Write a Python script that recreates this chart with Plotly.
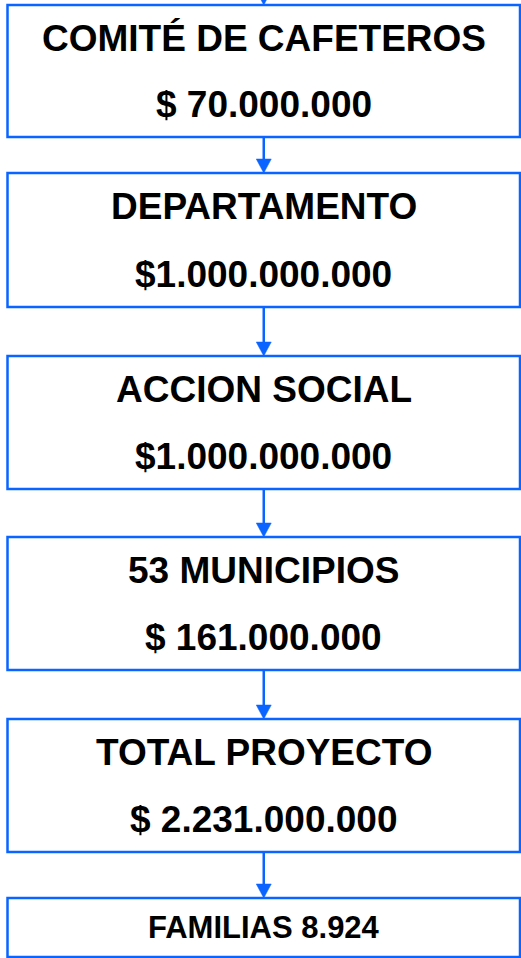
import plotly.graph_objects as go

# ---- data ----
titles = ["COMITÉ DE CAFETEROS", "DEPARTAMENTO", "ACCION SOCIAL",
          "53 MUNICIPIOS", "TOTAL PROYECTO"]
amounts = ["$ 70.000.000", "$1.000.000.000", "$1.000.000.000",
           "$ 161.000.000", "$ 2.231.000.000"]
final_label = "FAMILIAS 8.924"

# ---- layout constants (diagram geometry in pixel units) ----
W, H = 521, 958
box_left, box_right = 7.5, 520
box_tops = [5, 173, 356, 537, 719, 898]
box_bottoms = [137, 307, 489, 670, 852, 957]
cx = (box_left + box_right) / 2
BLUE = "#0A64FF"
FONT = "Liberation Sans, Arial, sans-serif"

fig = go.Figure()
shapes = []
annotations = []

def arrow(y0, y1):
    head_h, head_w = 14, 15
    shapes.append(dict(type="line", xref="x", yref="y", x0=cx, x1=cx,
                       y0=y0, y1=y1 - head_h + 1, line=dict(color=BLUE, width=2.5)))
    shapes.append(dict(type="path", xref="x", yref="y",
                       path=f"M {cx - head_w/2},{y1 - head_h} L {cx + head_w/2},{y1 - head_h} L {cx},{y1} Z",
                       fillcolor=BLUE, line=dict(color=BLUE, width=0.5)))

# arrow entering first box from top
arrow(-20, box_tops[0])

for i in range(len(box_tops)):
    t, b = box_tops[i], box_bottoms[i]
    shapes.append(dict(type="rect", xref="x", yref="y", x0=box_left, x1=box_right,
                       y0=t, y1=b, line=dict(color=BLUE, width=2.5),
                       fillcolor="rgba(0,0,0,0)"))
    if i < len(titles):
        h = b - t
        annotations.append(dict(x=cx, y=t + h * 0.25, xref="x", yref="y",
                                text=f"<b>{titles[i]}</b>", showarrow=False,
                                font=dict(family=FONT, size=37, color="black")))
        annotations.append(dict(x=cx, y=t + h * 0.755, xref="x", yref="y",
                                text=f"<b>{amounts[i]}</b>", showarrow=False,
                                font=dict(family=FONT, size=37, color="black")))
    else:
        annotations.append(dict(x=cx, y=(t + b) / 2, xref="x", yref="y",
                                text=f"<b>{final_label}</b>", showarrow=False,
                                font=dict(family=FONT, size=31, color="black")))
    if i + 1 < len(box_tops):
        arrow(b, box_tops[i + 1])

fig.update_layout(
    width=W, height=H,
    margin=dict(l=0, r=0, t=0, b=0),
    paper_bgcolor="white", plot_bgcolor="white",
    xaxis=dict(range=[0, W], visible=False, fixedrange=True),
    yaxis=dict(range=[H, 0], visible=False, fixedrange=True),
    shapes=shapes, annotations=annotations,
    showlegend=False,
)

fig.write_html(
    "out.html",
    config={"displayModeBar": False},
    post_script="document.body.style.margin='0';document.body.style.padding='0';"
                "document.body.style.overflow='hidden';"
                "document.documentElement.style.overflow='hidden';",
)
